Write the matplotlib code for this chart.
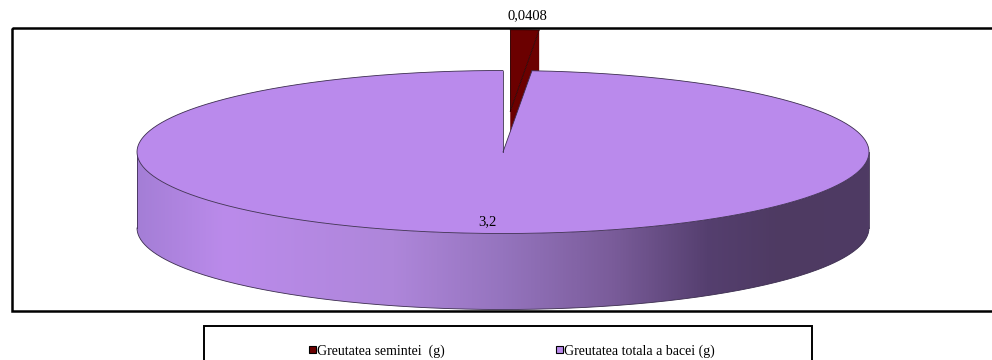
import numpy as np
import matplotlib
matplotlib.use('Agg')
import matplotlib.pyplot as plt
from matplotlib.patches import Polygon, Rectangle
from matplotlib.colors import LinearSegmentedColormap

# data
labels = ['Greutatea semintei  (g)', 'Greutatea totala a bacei (g)']
values = [0.0408, 3.2]
explode = [0.5, 0.0]
label_r = [1.17, 0.85]

colors = ['#6B0000', '#BA8AEC']
edge_colors = ['#2a0000', '#3c2d4f']
# horizontal shading of the pie wall, left to right
wall_stops = [(0.0, '#A47ED6'), (0.12, '#BB8BEB'), (0.35, '#AE86DA'),
              (0.5, '#9574BE'), (0.65, '#7A5C9A'), (0.78, '#553F6F'),
              (0.88, '#4E3A62'), (1.0, '#4F3B64')]
wall_cmap = LinearSegmentedColormap.from_list('wall', wall_stops)

plt.rcParams['font.family'] = ['Liberation Serif', 'DejaVu Serif']

W, H = 992, 360
cx, cy = 503, 152       # centre of the top face (pixels)
rx, ry = 366, 81.5      # ellipse half axes
depth = 76              # height of the cylinder wall


def rim(theta, r=1.0, off=(0.0, 0.0), dz=0.0):
    t = np.radians(np.atleast_1d(theta))
    return np.column_stack([cx + off[0] + r * rx * np.cos(t),
                            cy + off[1] - r * ry * np.sin(t) + dz])


def front_ranges(t2, t1):
    """Parts of [t2, t1] that lie on the near half of the ellipse."""
    out = []
    for k in range(-2, 3):
        lo, hi = max(t2, 180 + 360 * k), min(t1, 360 + 360 * k)
        if hi > lo:
            out.append((lo, hi))
    return out


def draw_slice(ax, t1, t2, off, color, ecolor, use_wall):
    apex = np.array([[cx + off[0], cy + off[1]]])
    down = np.array([0, depth])

    # cut face on the clockwise edge
    cut = np.vstack([apex, rim(t2, off=off), rim(t2, off=off) + down, apex + down])
    ax.add_patch(Polygon(cut, closed=True, fc=color, ec='none', zorder=2))

    # outer wall, only the part turned towards the viewer
    for lo, hi in front_ranges(t2, t1):
        th = np.linspace(lo, hi, 200)
        top = rim(th, off=off)
        bot = rim(th[::-1], off=off, dz=depth)
        poly = Polygon(np.vstack([top, bot]), closed=True, fc=color if not use_wall else 'none',
                       ec='none', zorder=3)
        ax.add_patch(poly)
        if use_wall:
            grad = np.linspace(0, 1, 512).reshape(1, -1)
            im = ax.imshow(grad, cmap=wall_cmap, aspect='auto', zorder=3,
                           extent=(cx + off[0] - rx, cx + off[0] + rx,
                                   cy + off[1] + ry + depth + 2, cy + off[1] - 2),
                           interpolation='bilinear')
            im.set_clip_path(poly)
        ax.plot(bot[:, 0], bot[:, 1], color=ecolor, lw=0.6, zorder=4)
        for end in (lo, hi):
            if end % 180 == 0:
                p = rim(end, off=off)[0]
                ax.plot([p[0], p[0]], [p[1], p[1] + depth], color=ecolor, lw=0.6, zorder=4)

    # top face
    th = np.linspace(t1, t2, max(int(abs(t1 - t2) * 2), 2))
    top = np.vstack([apex, rim(th, off=off)])
    ax.add_patch(Polygon(top, closed=True, fc=color, ec='none', zorder=5))
    arc = rim(th, off=off)
    ax.plot(arc[:, 0], arc[:, 1], color=ecolor, lw=0.6, zorder=6)
    ax.plot([apex[0, 0], arc[-1, 0]], [apex[0, 1], arc[-1, 1]], color=ecolor, lw=0.6, zorder=6)
    ax.plot([apex[0, 0], arc[0, 0]], [apex[0, 1], arc[0, 1]], color=ecolor, lw=0.6, zorder=6)


fig = plt.figure(figsize=(W / 100, H / 100), dpi=100)
ax = fig.add_axes([0, 0, 1, 1])

total = sum(values)
start = 90.0
slices = []
for v, e in zip(values, explode):
    span = 360.0 * v / total
    t1, t2 = start, start - span
    mid = np.radians((t1 + t2) / 2)
    off = (e * rx * np.cos(mid), -e * ry * np.sin(mid))
    slices.append((t1, t2, off))
    start = t2

# exploded pieces sit behind the main body
order = sorted(range(len(values)), key=lambda i: -explode[i])
for i in order:
    t1, t2, off = slices[i]
    draw_slice(ax, t1, t2, off, colors[i], edge_colors[i], use_wall=(explode[i] == 0))

# value labels
for i, v in enumerate(values):
    t1, t2, off = slices[i]
    p = rim((t1 + t2) / 2, r=label_r[i], off=off)[0]
    ax.text(p[0] - 3 * (explode[i] == 0), p[1], f'{v:g}'.replace('.', ','),
            ha='center', va='center', fontsize=10.5, color='black', zorder=8)

# plot area frame
ax.add_patch(Rectangle((12, 28), 1000, 283, fill=False, ec='black', lw=1.8, zorder=9))

# legend
ax.add_patch(Rectangle((204, 326), 608, 60, fc='white', ec='black', lw=1.4, zorder=9))
legend_x = [309, 556]
for i, lab in enumerate(labels):
    ax.add_patch(Rectangle((legend_x[i], 346), 7, 7, fc=colors[i], ec='black', lw=0.8, zorder=10))
    ax.text(legend_x[i] + 8, 351, lab, ha='left', va='center', fontsize=10, zorder=10)

ax.set_xlim(0, W)
ax.set_ylim(H, 0)
ax.axis('off')

fig.savefig('out.png', dpi=100)
